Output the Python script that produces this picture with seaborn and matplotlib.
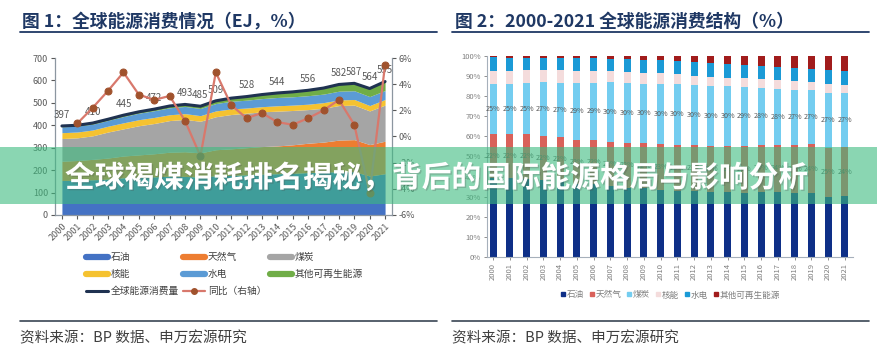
import matplotlib
matplotlib.use('Agg')
import matplotlib.pyplot as plt
import matplotlib.patheffects as pe
from matplotlib.lines import Line2D
from matplotlib.patches import Rectangle
from matplotlib.ticker import FuncFormatter
import numpy as np
import seaborn as sns

# ---- 数据 ----
years = list(range(2000, 2022))
year_labels = [str(y) for y in years]

# 图1：全球能源消费（EJ）
oil = [154, 155, 157, 160, 166, 168, 170, 173, 172, 169, 175, 177, 179, 182, 184, 186, 189, 191, 193, 193, 174, 184]
gas = [86, 88, 91, 94, 97, 100, 103, 107, 110, 108, 116, 118, 121, 123, 124, 127, 131, 134, 141, 143, 140, 145]
coal = [101, 101, 105, 116, 121, 130, 135, 141, 144, 141, 147, 153, 154, 155, 155, 153, 150, 151, 154, 154, 150, 161]
nuclear = [26, 26, 26, 26, 27, 27, 27, 26, 26, 25, 26, 25, 23, 23, 24, 24, 24, 25, 25, 25, 24, 25]
hydro = [26, 26, 26, 26, 28, 29, 30, 31, 32, 32, 33, 34, 35, 36, 37, 37, 38, 38, 39, 39, 40, 40]
renew = [4, 4, 5, 5, 6, 6, 7, 8, 9, 10, 12, 14, 16, 18, 20, 22, 24, 27, 30, 33, 36, 40]
total = [397, 400, 410, 427, 445, 460, 472, 486, 493, 485, 509, 521, 528, 537, 544, 549, 556, 566, 582, 587, 564, 595]
total_label_years = [2000, 2002, 2004, 2006, 2008, 2009, 2010, 2012, 2014, 2016, 2018, 2019, 2020, 2021]

# 同比（右轴），2001 起
yoy_years = years[1:]
yoy = [0.010, 0.022, 0.035, 0.049, 0.032, 0.028, 0.031, 0.012, -0.015, 0.049, 0.024, 0.014,
       0.018, 0.011, 0.009, 0.014, 0.020, 0.028, 0.009, -0.043, 0.055]

# 图2：能源消费结构（%）
s_oil = [39.3, 39.1, 38.9, 38.3, 37.8, 36.4, 36.2, 35.4, 34.5, 34.2, 33.4, 32.9, 32.8, 32.1, 32.2, 32.0, 32.3, 32.2, 31.7, 31.8, 29.7, 30.1]
s_gas = [21.9, 22.1, 22.2, 22.0, 21.7, 21.8, 21.8, 22.0, 22.4, 22.3, 22.8, 22.8, 23.0, 23.0, 23.0, 23.4, 23.6, 23.7, 24.2, 24.3, 24.7, 24.4]
s_coal = [25.0, 25.0, 25.4, 26.7, 27.3, 28.6, 28.8, 29.6, 29.8, 29.8, 30.0, 30.4, 30.0, 30.2, 29.7, 29.2, 28.1, 27.7, 27.2, 26.9, 27.2, 26.9]
s_nuclear = [6.4, 6.5, 6.3, 6.0, 6.0, 5.8, 5.7, 5.4, 5.3, 5.3, 5.1, 4.8, 4.4, 4.4, 4.4, 4.4, 4.4, 4.3, 4.3, 4.3, 4.3, 4.3]
s_hydro = [6.7, 6.5, 6.3, 6.1, 6.2, 6.3, 6.3, 6.3, 6.5, 6.6, 6.5, 6.5, 6.7, 6.8, 6.8, 6.7, 6.8, 6.8, 6.8, 6.4, 6.9, 6.8]
s_renew = [0.7, 0.8, 0.9, 0.9, 1.0, 1.1, 1.2, 1.3, 1.5, 1.8, 2.2, 2.6, 3.1, 3.5, 3.9, 4.3, 4.8, 5.3, 5.8, 6.3, 7.2, 7.5]

names = ['石油', '天然气', '煤炭', '核能', '水电', '其他可再生能源']

# ---- 样式 ----
sns.set_theme(style='white')
plt.rcParams['font.family'] = ['Noto Sans CJK SC', 'DejaVu Sans']
plt.rcParams['axes.unicode_minus'] = False

W, H = 877, 353
fig = plt.figure(figsize=(W / 100, H / 100), dpi=100)
fig.patch.set_facecolor('white')

def fx(px):
    return px / W

def fy(px):
    return 1 - px / H

grey = '#595959'
navy = '#1f3864'

# ---- 图1 ----
c1 = ['#4472c4', '#ed7d31', '#a5a5a5', '#f5c230', '#5b9bd5', '#70ad47']
ax1 = fig.add_axes([fx(55), fy(215), fx(392) - fx(55), fy(58) - fy(215)])
ax1.stackplot(years, oil, gas, coal, nuclear, hydro, renew, colors=c1, lw=0)
sns.lineplot(x=years, y=total, ax=ax1, color='#1f3251', lw=2.2)
for y, v in zip(years, total):
    if y in total_label_years:
        ax1.annotate(str(v), (y, v), xytext=(0, 8), textcoords='offset points',
                     ha='center', va='center', fontsize=7, color=grey)
ax1.set_xlim(1999.55, 2021.45)
ax1.set_ylim(0, 700)
ax1.set_yticks(range(0, 701, 100))
ax1.set_xticks(years)
ax1.set_xticklabels(year_labels, rotation=45, ha='right', rotation_mode='anchor')
ax1.tick_params(axis='both', labelsize=6.5, colors=grey, length=3, width=0.8, pad=2,
                left=True, bottom=True)
ax1.set_xlabel('')
ax1.set_ylabel('')
for s in ['top', 'right']:
    ax1.spines[s].set_visible(False)
for s in ['left', 'bottom']:
    ax1.spines[s].set_color('#8c96a0')
    ax1.spines[s].set_linewidth(0.9)

ax1b = ax1.twinx()
sns.lineplot(x=yoy_years, y=yoy, ax=ax1b, color='#d8786c', lw=1.6, marker='o',
             markersize=5, markerfacecolor='#a0522d', markeredgecolor='#a0522d')
ax1b.set_ylim(-0.06, 0.06)
ax1b.set_yticks(np.arange(-0.06, 0.061, 0.02))
ax1b.yaxis.set_major_formatter(FuncFormatter(lambda v, p: f'{v * 100:.0f}%'))
ax1b.tick_params(axis='y', labelsize=6.5, colors=grey, length=3, width=0.8, pad=2, right=True)
ax1b.set_ylabel('')
for s in ['top', 'left', 'bottom']:
    ax1b.spines[s].set_visible(False)
ax1b.spines['right'].set_color('#8c96a0')
ax1b.spines['right'].set_linewidth(0.9)

h1 = [Line2D([], [], color=c, lw=4.5) for c in c1]
h1 += [Line2D([], [], color='#1f3251', lw=2.2),
       Line2D([], [], color='#d8786c', lw=1.6, marker='o', markersize=4,
              markerfacecolor='#a0522d', markeredgecolor='#a0522d')]
l1 = names + ['全球能源消费量', '同比（右轴）']
order = [0, 3, 6, 1, 4, 7, 2, 5]
leg1 = fig.legend([h1[i] for i in order], [l1[i] for i in order], ncol=3,
                  loc='upper left', bbox_to_anchor=(fx(86), fy(252)), frameon=False,
                  fontsize=7, handlelength=2.3, handletextpad=0.25, columnspacing=0.4,
                  labelspacing=0.72, borderpad=0, borderaxespad=0)
for t in leg1.get_texts():
    t.set_color('#404040')

# ---- 图2 ----
c2 = ['#0e2f87', '#d9615a', '#74cdf0', '#f4dcdc', '#1b9ad6', '#a11c1c']
shares = [s_oil, s_gas, s_coal, s_nuclear, s_hydro, s_renew]
ax2 = fig.add_axes([fx(487), fy(257), fx(853) - fx(487), fy(56) - fy(257)])
x = np.arange(len(years))
bottom = np.zeros(len(years))
for i, (vals, c) in enumerate(zip(shares, c2)):
    bars = ax2.bar(x, vals, bottom=bottom, width=0.42, color=c, lw=0)
    if i in (1, 2):
        ax2.bar_label(bars, labels=[f'{v:.0f}%' for v in vals], label_type='center',
                      fontsize=5.2, color=grey)
    bottom = bottom + np.array(vals)
ax2.set_xlim(-0.36, 21.48)
ax2.set_ylim(0, 100)
ax2.set_yticks(range(0, 101, 10))
ax2.yaxis.set_major_formatter(FuncFormatter(lambda v, p: f'{v:.0f}%'))
ax2.set_xticks(x)
ax2.set_xticklabels(year_labels, rotation=90)
ax2.tick_params(axis='both', labelsize=5.5, colors='#7f7f7f', length=2.5, width=0.6, pad=2,
                left=True, bottom=True)
for s in ['top', 'right']:
    ax2.spines[s].set_visible(False)
for s in ['left', 'bottom']:
    ax2.spines[s].set_color('#a6b0bb')
    ax2.spines[s].set_linewidth(0.8)

h2 = [Line2D([], [], color=c, lw=0, marker='s', markersize=3.2) for c in c2]
leg2 = fig.legend(h2, names, ncol=6, loc='center', bbox_to_anchor=(fx(670), fy(295)),
                  frameon=False, fontsize=6.2, handlelength=0.6, handletextpad=0.15,
                  columnspacing=0.6, borderpad=0, borderaxespad=0)
for t in leg2.get_texts():
    t.set_color('#7f7f7f')

# ---- 标题、下划线、来源 ----
fig.text(fx(22), fy(22), '图 1：全球能源消费情况（EJ，%）', fontsize=12.8, fontweight='bold',
         color=navy, va='center', ha='left')
fig.text(fx(455), fy(22), '图 2：2000-2021 全球能源消费结构（%）', fontsize=12.8,
         fontweight='bold', color=navy, va='center', ha='left')
for x0, x1 in [(20, 437), (452, 869)]:
    fig.add_artist(Line2D([fx(x0), fx(x1)], [fy(32), fy(32)], color=navy, lw=1.3))
    fig.add_artist(Line2D([fx(x0), fx(x1)], [fy(321), fy(321)], color='#3a4654', lw=1.2))
for x0 in (20, 452):
    fig.text(fx(x0), fy(338), '资料来源：BP 数据、申万宏源研究', fontsize=10.5,
             fontweight='light', color='#404040', va='center', ha='left')

# ---- 横幅 ----
fig.add_artist(Rectangle((0, fy(204)), 1, fy(147) - fy(204), transform=fig.transFigure,
                         facecolor='#3dbb7f', alpha=0.6, lw=0, zorder=10))
fig.text(fx(65), fy(178), '全球褐煤消耗排名揭秘，背后的国际能源格局与影响分析', fontsize=21.4,
         fontweight='bold', color='white', va='center', ha='left', zorder=11,
         path_effects=[pe.withSimplePatchShadow(offset=(1, -1), alpha=0.25)])

fig.savefig('out.png', dpi=100)
